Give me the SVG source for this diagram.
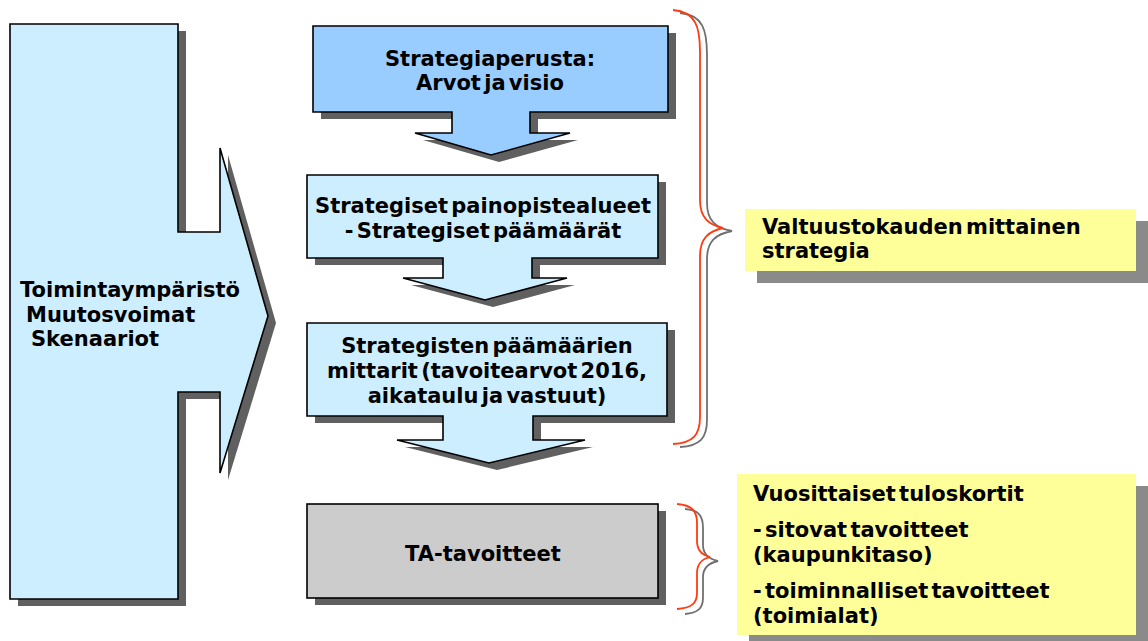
<svg xmlns="http://www.w3.org/2000/svg" width="1148" height="641" viewBox="0 0 1148 641">
  <style>
    text { font-family: "DejaVu Sans", Verdana, sans-serif; font-weight: bold; font-size: 21px; fill: #000; word-spacing: -4px; }
    .mid { text-anchor: middle; }
    .shape { stroke: #000; stroke-width: 1.6; stroke-linejoin: miter; }
    .shadow { fill: #606060; }
    .yshadow { fill: #8a8a8a; }
    .note { fill: #ffff99; }
    .brace-red { fill: none; stroke: #ff3b10; stroke-width: 1.8; }
    .brace-gray { fill: none; stroke: #707070; stroke-width: 1.8; }
  </style>
  <rect width="1148" height="641" fill="#ffffff"/>

  <!-- Large arrow on the left: operating environment -->
  <g id="environment">
    <polygon class="shadow" transform="translate(8,7)" points="10,24 178,24 178,232 220,232 220,148 268,316 220,473 220,392 178,392 178,599 10,599"/>
    <polygon class="shape" fill="#cceeff" points="10,24 178,24 178,232 220,232 220,148 268,316 220,473 220,392 178,392 178,599 10,599"/>
    <text x="20" y="297">Toimintaympäristö</text>
    <text x="26" y="322">Muutosvoimat</text>
    <text x="31" y="346">Skenaariot</text>
  </g>

  <!-- Strategy chain -->
  <g id="basis">
    <polygon class="shadow" transform="translate(8,7)" points="313,26 668,26 668,112 530,112 530,133 570,133 491,155 415,133 452,133 452,112 313,112"/>
    <polygon class="shape" fill="#99ccff" points="313,26 668,26 668,112 530,112 530,133 570,133 491,155 415,133 452,133 452,112 313,112"/>
    <text class="mid" x="490" y="66">Strategiaperusta:</text>
    <text class="mid" x="490" y="90">Arvot ja visio</text>
  </g>

  <g id="focus-areas">
    <polygon class="shadow" transform="translate(8,7)" points="307,175 658,175 658,258 532,258 532,278 567,278 485,300 403,278 443,278 443,258 307,258"/>
    <polygon class="shape" fill="#cceeff" points="307,175 658,175 658,258 532,258 532,278 567,278 485,300 403,278 443,278 443,258 307,258"/>
    <text class="mid" x="483" y="213">Strategiset painopistealueet</text>
    <text class="mid" x="483" y="238">- Strategiset päämäärät</text>
  </g>

  <g id="indicators">
    <polygon class="shadow" transform="translate(8,7)" points="307,323 667,323 667,416 533,416 533,440 585,440 489,463 397,440 443,440 443,416 307,416"/>
    <polygon class="shape" fill="#cceeff" points="307,323 667,323 667,416 533,416 533,440 585,440 489,463 397,440 443,440 443,416 307,416"/>
    <text class="mid" x="487" y="353">Strategisten päämäärien</text>
    <text class="mid" x="487" y="378">mittarit (tavoitearvot 2016,</text>
    <text class="mid" x="487" y="403">aikataulu ja vastuut)</text>
  </g>

  <g id="budget-targets">
    <rect class="shadow" x="315" y="511" width="351" height="94"/>
    <rect class="shape" fill="#cccccc" x="307" y="504" width="351" height="94"/>
    <text class="mid" x="483" y="561">TA-tavoitteet</text>
  </g>

  <!-- Curly braces grouping the levels -->
  <g id="connectors">
    <path class="brace-gray" d="M680,13 C703,15 707,30 707,55 L707,203 C707,221 716,228 732,231 C716,234 707,241 707,259 L707,420 C707,438 700,446 680,447"/>
    <path class="brace-red" d="M673,10 C696,12 700,27 700,52 L700,200 C700,218 709,225 723,228 C709,231 700,238 700,256 L700,417 C700,435 693,443 673,444"/>
    <path class="brace-gray" d="M685,509 C699,510 703,516 703,528 L703,545 C703,554 709,559 718,561 C709,563 703,568 703,577 L703,598 C703,608 698,613 685,614"/>
    <path class="brace-red" d="M677,504 C692,505 697,511 697,523 L697,541 C697,550 702,555 710,557 C702,559 697,564 697,573 L697,593 C697,603 692,608 677,609"/>
  </g>

  <!-- Notes on the right -->
  <g id="council-strategy">
    <rect class="yshadow" x="757" y="221" width="391" height="62"/>
    <rect class="note" x="745" y="209" width="391" height="62"/>
    <text x="762" y="234">Valtuustokauden mittainen</text>
    <text x="762" y="258">strategia</text>
  </g>

  <g id="scorecards">
    <rect class="yshadow" x="749" y="486" width="399" height="161"/>
    <rect class="note" x="737" y="474" width="399" height="161"/>
    <text x="753" y="501">Vuosittaiset tuloskortit</text>
    <text x="753" y="537">- sitovat tavoitteet</text>
    <text x="753" y="562">(kaupunkitaso)</text>
    <text x="753" y="598">- toiminnalliset tavoitteet</text>
    <text x="753" y="623">(toimialat)</text>
  </g>
</svg>
